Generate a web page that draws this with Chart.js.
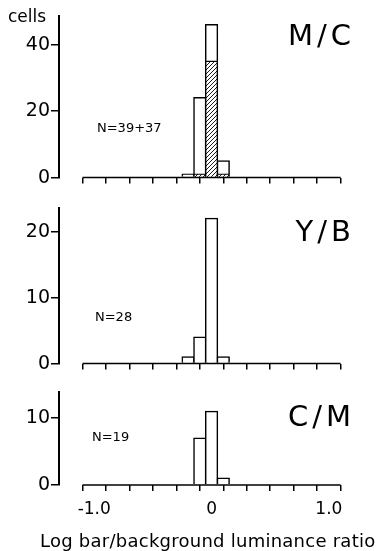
<!DOCTYPE html>
<html><head><meta charset="utf-8">
<script src="https://cdn.jsdelivr.net/npm/chart.js@4.4.1/dist/chart.umd.min.js"></script>
<style>
html,body{margin:0;padding:0;background:#fff;}
body{width:378px;height:551px;position:relative;overflow:hidden;font-family:"DejaVu Sans",sans-serif;color:#000;}
.pan{position:absolute;left:0;width:378px;}
.lbl{position:absolute;white-space:nowrap;line-height:1;}
.big{font-size:29px;letter-spacing:4px;}
.n{font-size:13px;}
</style></head><body>
<div class="pan" style="top:0;height:190px"><canvas id="c1"></canvas></div>
<div class="pan" style="top:190px;height:186px"><canvas id="c2"></canvas></div>
<div class="pan" style="top:376px;height:175px"><canvas id="c3"></canvas></div>
<div class="lbl" style="left:8px;top:8px;font-size:17px">cells</div>
<div class="lbl big" style="right:23px;top:21px">M/C</div>
<div class="lbl big" style="right:23px;top:217px">Y/B</div>
<div class="lbl big" style="right:23px;top:402px">C/M</div>
<div class="lbl n" style="left:97px;top:121px">N=39+37</div>
<div class="lbl n" style="left:95px;top:310px">N=28</div>
<div class="lbl n" style="left:92px;top:430px">N=19</div>
<div class="lbl" style="left:40px;top:532px;font-size:18px;letter-spacing:0.25px">Log bar/background luminance ratio</div>
<script>
// ---- data ----
const BINS_MC = [-0.2, -0.1, 0, 0.1];
const MC_HATCHED = [null, 1, 35, 1];   // 37 cells
const MC_OPEN = [1, 23, 11, 4];        // 39 cells
const BINS_YB = [-0.2, -0.1, 0, 0.1];
const YB_COUNTS = [1, 4, 22, 1];       // 28 cells
const BINS_CM = [-0.1, 0, 0.1];
const CM_COUNTS = [7, 11, 1];          // 19 cells
const X_TICKS = [-1.0, -0.8, -0.6, -0.4, -0.2, 0, 0.2, 0.4, 0.6, 0.8, 1.0];
const X_TICK_LABELS = {"-1": "-1.0", "0": "0", "1": "1.0"};
const Y_TICKS_MC = [0, 20, 40];
const Y_TICKS_YB = [0, 10, 20];
const Y_TICKS_CM = [0, 10];

// hatch pattern
function hatch(){
  const c = document.createElement('canvas'); c.width = 4; c.height = 4;
  const g = c.getContext('2d');
  g.fillStyle = '#fff'; g.fillRect(0,0,4,4);
  g.strokeStyle = '#000'; g.lineWidth = 0.9;
  g.beginPath(); g.moveTo(0,4); g.lineTo(4,0); g.moveTo(-1,1); g.lineTo(1,-1); g.moveTo(3,5); g.lineTo(5,3); g.stroke();
  return g.createPattern(c, 'repeat');
}

const baseline = {
  id: 'baseline',
  afterDatasetsDraw(chart){
    const x = chart.scales.x, y = chart.scales.y, ctx = chart.ctx;
    ctx.save(); ctx.strokeStyle = '#000'; ctx.lineWidth = 1.5;
    ctx.beginPath(); ctx.moveTo(x.getPixelForValue(-1.1), y.getPixelForValue(0));
    ctx.lineTo(x.getPixelForValue(1.1), y.getPixelForValue(0)); ctx.stroke(); ctx.restore();
  }
};

function makeChart(id, bins, datasets, yMax, yTicks, padTop, xHeight, showX){
  return new Chart(document.getElementById(id), {
    type: 'bar',
    data: { datasets: datasets.map(d => ({
      data: bins.map((b,i) => ({x: b, y: d.values[i]})),
      backgroundColor: d.fill, borderColor: '#000', borderWidth: 1.5,
      barPercentage: 1, categoryPercentage: 1, borderSkipped: 'start', inflateAmount: 0.75
    })) },
    options: {
      responsive: true, maintainAspectRatio: false, animation: false,
      layout: { padding: { top: padTop, right: 24, left: 0, bottom: 0 } },
      plugins: { legend: { display: false }, tooltip: { enabled: false } },
      scales: {
        x: {
          type: 'linear', min: -1.186, max: 1.1, stacked: true,
          border: { display: false },
          grid: { drawOnChartArea: false, drawTicks: true, tickLength: 6, color: '#000', lineWidth: 1.5 },
          afterBuildTicks: s => { s.ticks = X_TICKS.map(v => ({value: v})); },
          afterFit: s => { s.height = xHeight; },
          ticks: {
            display: showX, color: '#000', padding: 8, maxRotation: 0, autoSkip: false,
            font: { family: 'DejaVu Sans', size: 17 },
            callback: v => { const k = String(Math.round(v*10)/10); return X_TICK_LABELS[k] !== undefined ? X_TICK_LABELS[k] : ''; }
          }
        },
        y: {
          min: 0, max: yMax, stacked: true,
          border: { display: true, color: '#000', width: 2 },
          grid: { drawOnChartArea: false, drawTicks: true, tickLength: 8, color: '#000', lineWidth: 1.5 },
          afterBuildTicks: s => { s.ticks = yTicks.map(v => ({value: v})); },
          afterFit: s => { s.width = 59; },
          ticks: { color: '#000', padding: 1, font: { family: 'DejaVu Sans', size: 19 } }
        }
      }
    },
    plugins: [baseline]
  });
}

const H = hatch();
makeChart('c1', BINS_MC, [{values: MC_HATCHED, fill: H}, {values: MC_OPEN, fill: '#fff'}], 48.6, Y_TICKS_MC, 16, 10, false);
makeChart('c2', BINS_YB, [{values: YB_COUNTS, fill: '#fff'}], 23.6, Y_TICKS_YB, 18, 10, false);
makeChart('c3', BINS_CM, [{values: CM_COUNTS, fill: '#fff'}], 13.9, Y_TICKS_CM, 16, 66, true);
</script>
</body></html>
